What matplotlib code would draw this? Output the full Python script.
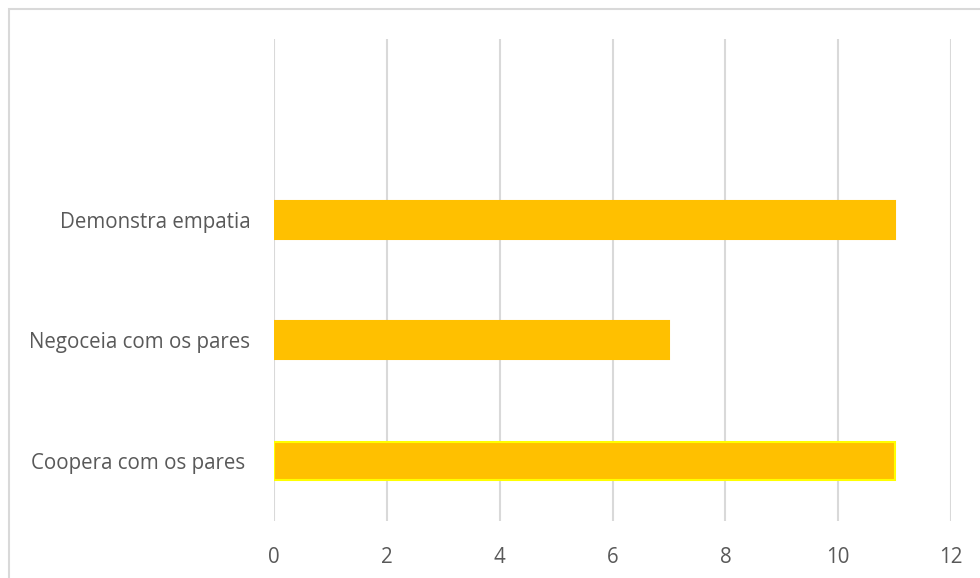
import matplotlib.pyplot as plt
from matplotlib.patches import Rectangle

# data
categories = ["Coopera com os pares ", "Negoceia com os pares", "Demonstra empatia", ""]
values = [11, 7, 11]
edge_colors = ["#FFFF00", "#FFC000", "#FFC000"]
xticks = [0, 2, 4, 6, 8, 10, 12]

plt.rcParams['font.family'] = ['Open Sans', 'DejaVu Sans']

fig = plt.figure(figsize=(9.8, 5.78), dpi=100)
ax = fig.add_axes([274 / 980, 1 - 521 / 578, (951 - 274) / 980, (521 - 39) / 578])

# outer chart border
fig.patches.append(Rectangle((9 / 980, -0.1), 1.2, 1 - 9 / 578 + 0.1,
                             transform=fig.transFigure, fill=False,
                             edgecolor="#D9D9D9", linewidth=1.5))

ax.barh(range(len(values)), values, height=0.315, color="#FFC000",
        edgecolor=edge_colors, linewidth=1.5, zorder=3)

ax.set_xlim(0, 12)
ax.set_ylim(-0.5, len(categories) - 0.5)
ax.set_xticks(xticks)
ax.set_yticks(range(len(categories)))
ax.set_yticklabels(categories)
ax.grid(axis="x", color="#D9D9D9", linewidth=1.5, zorder=0)
for s in ax.spines.values():
    s.set_visible(False)
ax.tick_params(length=0, colors="#595959", labelsize=14.8)
ax.tick_params(axis="x", pad=18.5)
ax.tick_params(axis="y", pad=17)

fig.savefig("out.png", dpi=100)
